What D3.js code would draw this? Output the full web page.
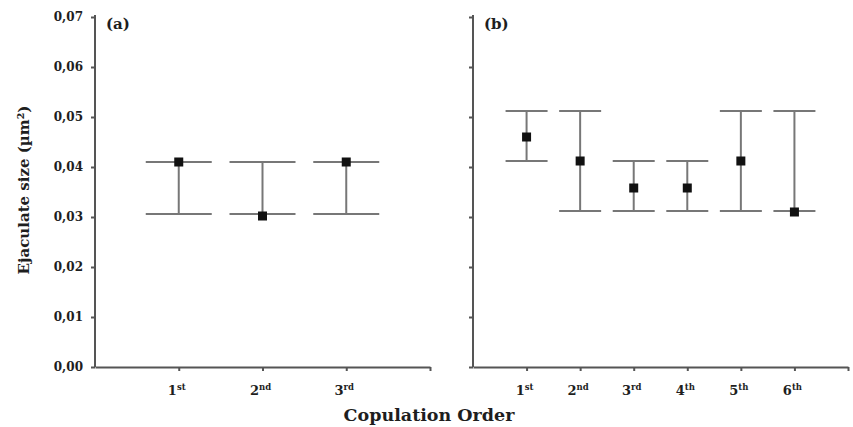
<!DOCTYPE html>
<meta charset="utf-8">
<style>
body { margin: 0; background: #fff; }
svg text { font-family: "DejaVu Serif", serif; font-weight: bold; fill: #1e1e1e; }
.axis path, .axis line { stroke: #555; stroke-width: 2; fill: none; }
.bar line { stroke: #777; stroke-width: 2; }
</style>
<svg id="chart" width="853" height="427"></svg>
<script src="https://d3js.org/d3.v7.min.js"></script>
<script>

// values
var ordersA = ["1", "2", "3"],
    suffixA = ["st", "nd", "rd"],
    meanA  = [0.041, 0.0302, 0.041],
    lowA   = [0.0306, 0.0306, 0.0306],
    highA  = [0.041, 0.041, 0.041];

var ordersB = ["1", "2", "3", "4", "5", "6"],
    suffixB = ["st", "nd", "rd", "th", "th", "th"],
    meanB  = [0.046, 0.0412, 0.0358, 0.0358, 0.0412, 0.031],
    lowB   = [0.0412, 0.0312, 0.0312, 0.0312, 0.0312, 0.0312],
    highB  = [0.0512, 0.0512, 0.0412, 0.0412, 0.0512, 0.0512];

var yTicks = [0, 0.01, 0.02, 0.03, 0.04, 0.05, 0.06, 0.07];

var svg = d3.select("#chart");

var y = d3.scaleLinear().domain([0, 0.07]).range([367, 17]);

function panel(opts) {
  var x = d3.scaleLinear().domain([0, opts.n + 1]).range([opts.left, opts.right]);
  var g = svg.append("g");

  // y axis
  var yAxis = g.append("g")
      .attr("class", "axis")
      .attr("transform", "translate(" + opts.left + ",0)")
      .call(d3.axisLeft(y).tickValues(yTicks).tickSize(4).tickSizeOuter(0).tickFormat(""));
  yAxis.select(".domain").attr("d", "M0," + (y(0.07) - 2) + "V" + y(0));

  if (opts.labels) {
    g.selectAll(".ylab").data(yTicks).enter().append("text")
        .attr("x", opts.left - 12)
        .attr("y", function(d) { return y(d); })
        .attr("dy", "0.35em")
        .attr("text-anchor", "end")
        .style("font-size", "12px")
        .text(function(d) { return d3.format(".2f")(d).replace(".", ","); });
  }

  // x axis
  var xt = d3.range(1, opts.n + 2);
  g.append("g")
      .attr("class", "axis")
      .attr("transform", "translate(0," + y(0) + ")")
      .call(d3.axisBottom(x).tickValues(xt).tickSize(4).tickSizeOuter(0).tickFormat(""));

  var xl = g.selectAll(".xlab").data(opts.orders).enter().append("text")
      .attr("x", function(d, i) { return x(i + 1) - 2; })
      .attr("y", 395)
      .attr("text-anchor", "middle")
      .style("font-size", "13px");
  xl.append("tspan").text(function(d) { return d; });
  xl.append("tspan")
      .attr("dy", "-5")
      .style("font-size", "8.5px")
      .text(function(d, i) { return opts.suffix[i]; });

  // error bars
  var bar = g.selectAll(".bar").data(opts.mean).enter().append("g")
      .attr("class", "bar");
  bar.append("line")
      .attr("x1", function(d, i) { return x(i + 1); })
      .attr("x2", function(d, i) { return x(i + 1); })
      .attr("y1", function(d, i) { return y(opts.low[i]); })
      .attr("y2", function(d, i) { return y(opts.high[i]); });
  bar.append("line")
      .attr("x1", function(d, i) { return x(i + 1) - opts.cap; })
      .attr("x2", function(d, i) { return x(i + 1) + opts.cap; })
      .attr("y1", function(d, i) { return y(opts.high[i]); })
      .attr("y2", function(d, i) { return y(opts.high[i]); });
  bar.append("line")
      .attr("x1", function(d, i) { return x(i + 1) - opts.cap; })
      .attr("x2", function(d, i) { return x(i + 1) + opts.cap; })
      .attr("y1", function(d, i) { return y(opts.low[i]); })
      .attr("y2", function(d, i) { return y(opts.low[i]); });
  bar.append("rect")
      .attr("x", function(d, i) { return x(i + 1) - 4.5; })
      .attr("y", function(d) { return y(d) - 4.5; })
      .attr("width", 9)
      .attr("height", 9)
      .attr("fill", "#111");

  g.append("text")
      .attr("x", opts.left + 11)
      .attr("y", 29)
      .style("font-size", "15px")
      .text(opts.tag);
}

panel({left: 95, right: 430, n: 3, orders: ordersA, suffix: suffixA,
       mean: meanA, low: lowA, high: highA, cap: 33, labels: true, tag: "(a)"});
panel({left: 473, right: 848, n: 6, orders: ordersB, suffix: suffixB,
       mean: meanB, low: lowB, high: highB, cap: 21, labels: false, tag: "(b)"});

svg.append("text")
    .attr("transform", "translate(29,190) rotate(-90)")
    .attr("text-anchor", "middle")
    .style("font-size", "15px")
    .text("Ejaculate size (\u00b5m\u00b2)");

svg.append("text")
    .attr("x", 429)
    .attr("y", 421)
    .attr("text-anchor", "middle")
    .style("font-size", "17.5px")
    .text("Copulation Order");

</script>
